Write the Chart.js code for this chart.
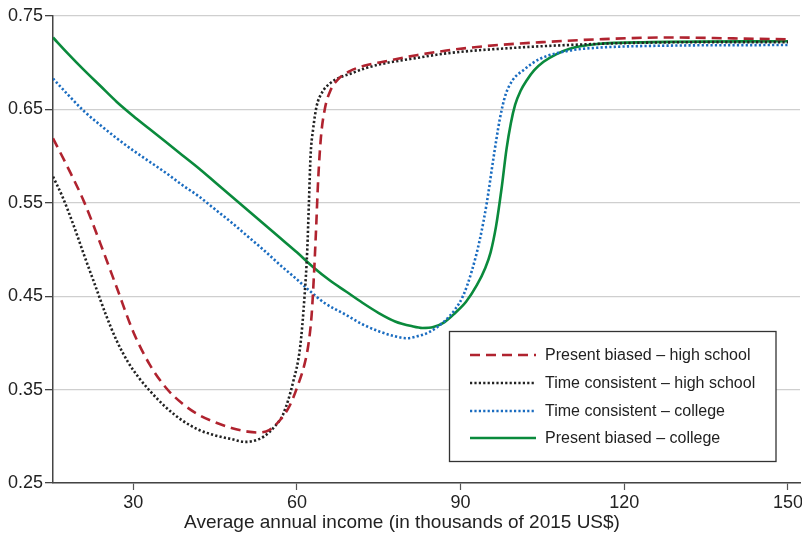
<!DOCTYPE html>
<html>
<head>
<meta charset="utf-8">
<script src="https://cdn.jsdelivr.net/npm/chart.js@4/dist/chart.umd.min.js"></script>
<style>
  html, body { margin: 0; padding: 0; background: #fff; }
  #wrap { width: 802px; height: 540px; }
</style>
</head>
<body>
<div id="wrap"><canvas id="c" width="802" height="540"></canvas></div>
<script>
// Average annual income (thousands of 2015 US$) and share values per series
const xTicks = [30, 60, 90, 120, 150];
const yTicks = [0.25, 0.35, 0.45, 0.55, 0.65, 0.75];
const xTitle = 'Average annual income (in thousands of 2015 US$)';

const pbHighX = [15.3, 18, 21, 24, 27, 30, 33, 36, 39, 42, 45, 48, 51, 53, 55, 57, 58.7, 60.2, 61.3, 62.1, 62.7, 63.1, 63.5, 63.9, 64.4, 65.1, 66.2, 67.5, 69.7, 72.5, 75.8, 81.9, 87.4, 95, 105, 115, 128, 140, 150];
const pbHighY = [0.619, 0.588, 0.551, 0.506, 0.459, 0.412, 0.377, 0.352, 0.335, 0.323, 0.315, 0.309, 0.305, 0.304, 0.307, 0.318, 0.333, 0.355, 0.375, 0.398, 0.430, 0.470, 0.520, 0.575, 0.620, 0.650, 0.671, 0.682, 0.691, 0.697, 0.701, 0.708, 0.713, 0.718, 0.722, 0.725, 0.727, 0.726, 0.725];

const tcHighX = [15.3, 17, 19, 21, 23, 25, 27, 29, 31, 33, 36, 39, 42, 45, 48, 50.5, 52, 54, 56, 57.5, 59.3, 60.6, 61.4, 61.9, 62.2, 62.5, 63.0, 63.6, 64.6, 66.1, 67.8, 69.7, 72.5, 75.8, 81.9, 87.4, 100, 110, 120, 135, 150];
const tcHighY = [0.578, 0.557, 0.527, 0.494, 0.462, 0.430, 0.402, 0.380, 0.363, 0.349, 0.331, 0.317, 0.307, 0.301, 0.297, 0.294, 0.295, 0.300, 0.311, 0.324, 0.358, 0.396, 0.450, 0.500, 0.550, 0.600, 0.630, 0.653, 0.668, 0.678, 0.684, 0.688, 0.694, 0.699, 0.705, 0.710, 0.716, 0.719, 0.721, 0.722, 0.722];

const tcCollegeX = [15.3, 18, 21, 24, 27, 30, 33, 36, 39, 42, 45, 48, 51, 54, 57, 60, 62.1, 65, 69, 72, 75.2, 78, 80.1, 82, 84.4, 87, 89, 90.5, 92, 93.5, 94.8, 96, 97.2, 98.2, 99.5, 101.5, 104.5, 110, 115, 125, 150];
const tcCollegeY = [0.683, 0.666, 0.648, 0.633, 0.619, 0.606, 0.594, 0.582, 0.569, 0.557, 0.543, 0.529, 0.514, 0.499, 0.483, 0.468, 0.457, 0.443, 0.430, 0.420, 0.412, 0.407, 0.405, 0.407, 0.412, 0.423, 0.436, 0.451, 0.476, 0.510, 0.550, 0.597, 0.640, 0.665, 0.681, 0.692, 0.704, 0.713, 0.716, 0.718, 0.719];

const pbCollegeX = [15.3, 18, 21, 24, 27, 30, 33, 36, 39, 42, 45, 48, 51, 54, 57, 60, 63, 66, 69, 72, 75, 78, 81, 83, 85, 87, 89, 91, 93, 94.5, 95.5, 96.5, 97.5, 98.4, 99.2, 100, 101, 102.1, 103.5, 105.2, 107.5, 110, 115, 125, 150];
const pbCollegeY = [0.727, 0.710, 0.692, 0.675, 0.658, 0.643, 0.629, 0.615, 0.601, 0.587, 0.572, 0.557, 0.542, 0.527, 0.512, 0.497, 0.481, 0.467, 0.455, 0.443, 0.432, 0.423, 0.418, 0.416, 0.417, 0.422, 0.432, 0.444, 0.462, 0.480, 0.497, 0.525, 0.565, 0.607, 0.635, 0.655, 0.670, 0.681, 0.692, 0.701, 0.709, 0.715, 0.720, 0.722, 0.723];

const seriesNames = [
  'Present biased \u2013 high school',
  'Time consistent \u2013 high school',
  'Time consistent \u2013 college',
  'Present biased \u2013 college'
];

const FONT = '"Liberation Sans", Arial, Helvetica, sans-serif';

function pts(xs, ys) { return xs.map((x, i) => ({ x: x, y: ys[i] })); }

const datasets = [
  { label: seriesNames[0], data: pts(pbHighX, pbHighY), borderColor: '#b0232f', borderWidth: 2.6, borderDash: [10, 6] },
  { label: seriesNames[1], data: pts(tcHighX, tcHighY), borderColor: '#222222', borderWidth: 2.6, borderDash: [2.2, 2.2] },
  { label: seriesNames[2], data: pts(tcCollegeX, tcCollegeY), borderColor: '#1a6cc0', borderWidth: 2.6, borderDash: [2.2, 2.2] },
  { label: seriesNames[3], data: pts(pbCollegeX, pbCollegeY), borderColor: '#0a8a3c', borderWidth: 2.6 }
].map(d => Object.assign(d, { pointRadius: 0, fill: false, cubicInterpolationMode: 'monotone' }));

// Boxed legend inside the plot area (lower right) plus the x-axis caption
const boxLegend = {
  id: 'boxLegend',
  afterDraw(chart) {
    const ctx = chart.ctx;
    const bx = 449.5, by = 331.5, bw = 326.5, bh = 130;
    ctx.save();
    ctx.fillStyle = '#fff';
    ctx.fillRect(bx, by, bw, bh);
    ctx.strokeStyle = '#333';
    ctx.lineWidth = 1.3;
    ctx.strokeRect(bx, by, bw, bh);
    const rows = [355, 383, 411, 438];
    chart.data.datasets.forEach((ds, i) => {
      const y = rows[i];
      ctx.beginPath();
      ctx.setLineDash(ds.borderDash || []);
      ctx.strokeStyle = ds.borderColor;
      ctx.lineWidth = 2.6;
      ctx.moveTo(470, y);
      ctx.lineTo(536, y);
      ctx.stroke();
      ctx.setLineDash([]);
      ctx.fillStyle = '#222';
      ctx.font = '16px ' + FONT;
      ctx.textBaseline = 'middle';
      ctx.textAlign = 'left';
      ctx.fillText(ds.label, 545, y + 0.5);
    });
    ctx.fillStyle = '#222';
    ctx.font = '19px ' + FONT;
    ctx.textAlign = 'center';
    ctx.textBaseline = 'middle';
    ctx.fillText(xTitle, 402, 523);
    ctx.restore();
  }
};

new Chart(document.getElementById('c'), {
  type: 'line',
  data: { datasets: datasets },
  plugins: [boxLegend],
  options: {
    responsive: false,
    animation: false,
    layout: { padding: { top: 16, right: 2, left: 0, bottom: 0 } },
    plugins: { legend: { display: false }, tooltip: { enabled: false } },
    scales: {
      x: {
        type: 'linear',
        min: 15.3,
        max: 152.2,
        afterBuildTicks(scale) { scale.ticks = xTicks.map(v => ({ value: v })); },
        afterFit(scale) { scale.height = 57; scale.paddingLeft = 0; scale.paddingRight = 0; },
        grid: { drawOnChartArea: false, drawTicks: true, tickLength: 7, color: '#555', tickWidth: 1.2 },
        border: { color: '#444', width: 1.5 },
        ticks: { color: '#222', font: { family: FONT, size: 18 }, padding: 2, maxRotation: 0 }
      },
      y: {
        min: 0.25,
        max: 0.75,
        afterBuildTicks(scale) { scale.ticks = yTicks.map(v => ({ value: v })); },
        afterFit(scale) { scale.width = 53; },
        grid: { color: '#cfcfcf', lineWidth: 1.3, tickColor: '#444', tickLength: 8, drawTicks: true },
        border: { color: '#444', width: 1.5 },
        ticks: { color: '#222', font: { family: FONT, size: 18 }, padding: 2, callback: v => v.toFixed(2) }
      }
    }
  }
});
</script>
</body>
</html>
